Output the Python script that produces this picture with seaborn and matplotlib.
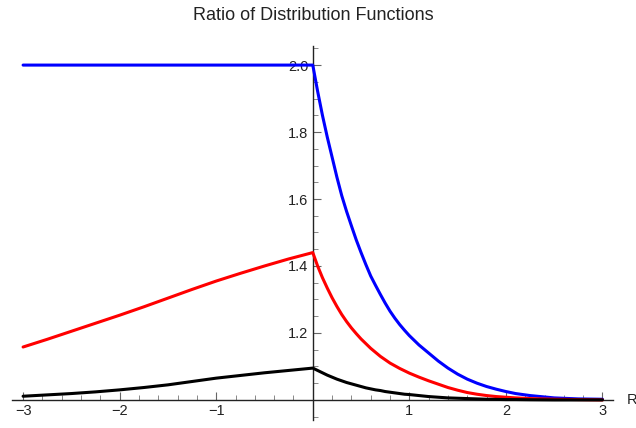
import numpy as np
import pandas as pd
import matplotlib
matplotlib.use("Agg")
import matplotlib.pyplot as plt
import seaborn as sns

# curve values (x < 0 part and x > 0 part)
x_left = [-3.0, -2.75, -2.5, -2.25, -2.0, -1.75, -1.5, -1.25, -1.0, -0.75, -0.5, -0.25, 0.0]
x_right = [0.0, 0.05, 0.1, 0.15, 0.2, 0.25, 0.3, 0.35, 0.4, 0.45, 0.5, 0.55, 0.6, 0.65,
           0.7, 0.75, 0.8, 0.85, 0.9, 0.95, 1.0, 1.1, 1.2, 1.3, 1.4, 1.5, 1.6, 1.7,
           1.8, 1.9, 2.0, 2.1, 2.25, 2.5, 2.75, 3.0]

blue_left = [2.0] * 13
blue_right = [2.0, 1.922, 1.85, 1.785, 1.725, 1.665, 1.61, 1.563, 1.52, 1.478, 1.44, 1.404,
              1.37, 1.342, 1.315, 1.289, 1.265, 1.244, 1.225, 1.208, 1.192, 1.164, 1.14,
              1.116, 1.095, 1.077, 1.062, 1.050, 1.040, 1.032, 1.025, 1.019, 1.013, 1.006,
              1.003, 1.002]

red_left = [1.158, 1.181, 1.205, 1.229, 1.253, 1.278, 1.304, 1.330, 1.355, 1.378, 1.400,
            1.421, 1.44]
red_right = [1.44, 1.40, 1.365, 1.334, 1.305, 1.279, 1.255, 1.234, 1.215, 1.198, 1.182,
             1.168, 1.154, 1.142, 1.130, 1.120, 1.110, 1.102, 1.094, 1.087, 1.080, 1.068,
             1.057, 1.047, 1.037, 1.029, 1.022, 1.017, 1.013, 1.010, 1.008, 1.006, 1.004,
             1.002, 1.001, 1.0]

black_left = [1.011, 1.015, 1.019, 1.024, 1.030, 1.037, 1.045, 1.055, 1.065, 1.073, 1.081,
              1.088, 1.095]
black_right = [1.095, 1.088, 1.081, 1.074, 1.068, 1.062, 1.057, 1.052, 1.048, 1.044, 1.040,
               1.036, 1.033, 1.030, 1.028, 1.025, 1.023, 1.021, 1.019, 1.017, 1.016, 1.013,
               1.010, 1.008, 1.006, 1.005, 1.004, 1.003, 1.002, 1.0015, 1.001, 1.001,
               1.0005, 1.0, 1.0, 1.0]

x_major = [-3, -2, -1, 1, 2, 3]
y_major = [1.2, 1.4, 1.6, 1.8, 2.0]

sns.set_style("white")
plt.rcParams["font.family"] = ["Liberation Sans", "DejaVu Sans"]

W, H = 636, 428
fig = plt.figure(figsize=(W / 100, H / 100), dpi=100)
ax = fig.add_axes([11.7 / W, (H - 420) / H, (613 - 11.7) / W, (420 - 46) / H])
ax.patch.set_alpha(0)

curves = [("blue", blue_left, blue_right),
          ("red", red_left, red_right),
          ("black", black_left, black_right)]
for color, yl, yr in curves:
    df = pd.DataFrame({"x": x_left + x_right, "y": yl + yr})
    sns.lineplot(data=df, x="x", y="y", sort=False, estimator=None,
                 color=color, linewidth=2.2, ax=ax, zorder=3)

ax.set_xlim(-3.118, 3.109)
ax.set_ylim(0.94, 2.057)

ax.spines["left"].set_position(("data", 0))
ax.spines["bottom"].set_position(("data", 1.0))
ax.spines["top"].set_visible(False)
ax.spines["right"].set_visible(False)
for s in ("left", "bottom"):
    ax.spines[s].set_color("#222222")
    ax.spines[s].set_linewidth(1.0)

ax.set_xticks(x_major)
ax.set_xticklabels([f"{v}".replace("-", "\u2212") for v in x_major])
ax.set_xticks([round(v, 2) for v in np.arange(-3.0, 3.01, 0.2)], minor=True)
ax.set_yticks(y_major)
ax.set_yticklabels([f"{v:.1f}" for v in y_major])
ax.set_yticks([round(v, 2) for v in np.arange(0.95, 2.06, 0.05)], minor=True)

ax.tick_params(which="major", direction="in", length=6, width=0.8, color="#666666",
               labelsize=10.5, labelcolor="#222222", pad=3)
ax.tick_params(which="minor", direction="in", length=3.5, width=0.7, color="#888888")
ax.tick_params(axis="y", which="both", left=True)
ax.tick_params(axis="x", which="both", bottom=True)
ax.set_xlabel("")
ax.set_ylabel("")
ax.grid(False)

fig.text(313 / W, 1 - 20 / H, "Ratio of Distribution Functions", ha="center",
         va="baseline", fontsize=13, color="#222222")
fig.text(627 / W, 1 - 400 / H, "R", ha="left", va="center", fontsize=10.5,
         color="#222222")

fig.savefig("out.png", dpi=100)
